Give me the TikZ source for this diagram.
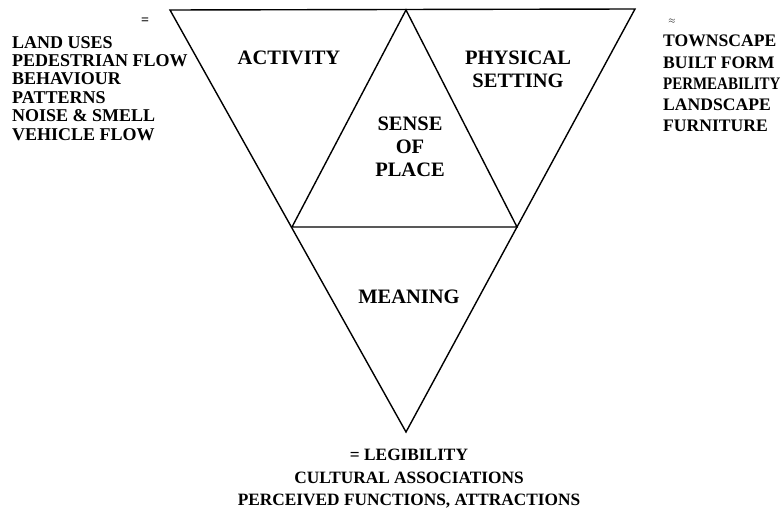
\documentclass[tikz,border=0pt]{standalone}
\usepackage{fontspec}
\setmainfont{Liberation Serif}
\begin{document}
\begin{tikzpicture}[x=1pt,y=-1pt,
  lbl/.style={font=\fontsize{20.5}{23}\selectfont\bfseries, inner sep=0pt, align=center},
  lst/.style={font=\fontsize{18}{18.4}\selectfont\bfseries, inner sep=0pt, align=left, anchor=north west},
  edge/.style={line width=1.4pt, line join=miter}]
\useasboundingbox (0,0) rectangle (782,510);
\coordinate (TL) at (170,10);
\coordinate (TR) at (635,9);
\coordinate (TM) at (406,10);
\coordinate (BL) at (292,227);
\coordinate (BR) at (517,227);
\coordinate (B) at (406,432);
\draw[edge] (TL) -- (TR) -- (B) -- cycle;
\draw[edge] (BL) -- (TM) -- (BR) -- cycle;
\node[lbl] (act) at (289,58) {ACTIVITY};
\node[lbl] (phys) at (518,69) {PHYSICAL\\SETTING};
\node[lbl] (sense) at (410,147) {SENSE\\OF\\PLACE};
\node[lbl] (mean) at (409,297) {MEANING};
\node[lbl, anchor=north, font=\fontsize{17.3}{22.5}\selectfont\bfseries] (bot) at (409,449) {= LEGIBILITY\\CULTURAL ASSOCIATIONS\\PERCEIVED FUNCTIONS, ATTRACTIONS};
\node[lst] (left) at (12,36) {LAND USES\\PEDESTRIAN FLOW\\BEHAVIOUR\\PATTERNS\\NOISE \& SMELL\\VEHICLE FLOW};
\node[lbl, font=\fontsize{14}{14}\selectfont\bfseries] (eqL) at (145,21) {=};
\node[lst, font=\fontsize{17.6}{21.2}\selectfont\bfseries] (right) at (663,35) {TOWNSCAPE\\BUILT FORM\\\scalebox{0.85}[1]{PERMEABILITY}\\LANDSCAPE\\FURNITURE};
\node[lbl, font=\fontsize{9}{9}\selectfont\bfseries] (eqR) at (672,21) {$\approx$};
\end{tikzpicture}
\end{document}
